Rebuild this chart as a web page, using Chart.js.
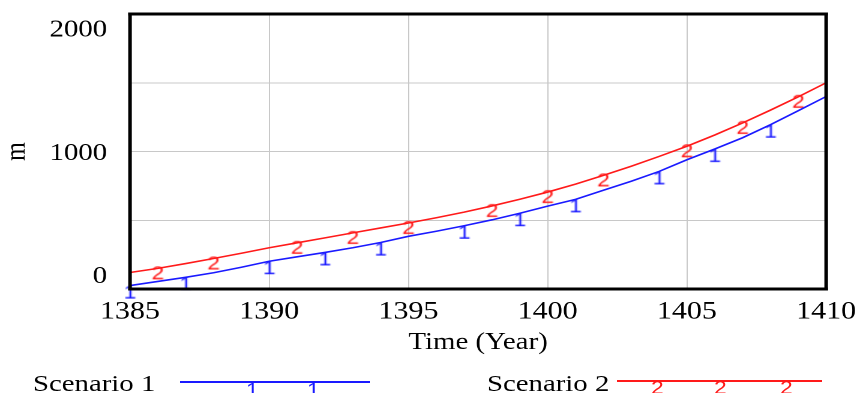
<!DOCTYPE html>
<html>
<head>
<meta charset="utf-8">
<script src="https://cdn.jsdelivr.net/npm/chart.js@4"></script>
<style>
  body { margin: 0; background: #fff; overflow: hidden; }
  #wrap { position: relative; width: 857px; height: 393px; }
  #chart { position: absolute; left: 0; top: 0; width: 857px; height: 393px; }
  .leg-text { position: absolute; font-family: "Liberation Serif", serif; font-size: 24px; line-height: 26px;
              color: #000; white-space: nowrap; transform: scaleX(1.2); transform-origin: left top; }
  .leg-line { position: absolute; height: 2px; }
  .leg-mark { position: absolute; font-family: "Liberation Sans", sans-serif; font-size: 19px; line-height: 19px;
              transform: scaleX(1.2); transform-origin: center top; }
</style>
</head>
<body>
<div id="wrap">
  <canvas id="chart" width="714" height="393" style="width:857px;height:393px"></canvas>
  <div class="leg-text" style="left:33px; top:370px;">Scenario 1</div>
  <div class="leg-line" style="left:180px; width:190px; top:381px; background:#1a1aff;"></div>
  <div class="leg-mark" style="left:247px; top:380px; color:#1a1aff;">1</div>
  <div class="leg-mark" style="left:308px; top:380px; color:#1a1aff;">1</div>
  <div class="leg-text" style="left:487px; top:370px;">Scenario 2</div>
  <div class="leg-line" style="left:617px; width:205px; top:380px; background:#ff1a1a;"></div>
  <div class="leg-mark" style="left:652px; top:378px; color:#ff1a1a;">2</div>
  <div class="leg-mark" style="left:715px; top:378px; color:#ff1a1a;">2</div>
  <div class="leg-mark" style="left:781px; top:378px; color:#ff1a1a;">2</div>
</div>
<script>
// ---------- Data ----------
const years = [1385, 1386, 1387, 1388, 1389, 1390, 1391, 1392, 1393, 1394, 1395, 1396, 1397,
               1398, 1399, 1400, 1401, 1402, 1403, 1404, 1405, 1406, 1407, 1408, 1409, 1410];
const scenario1 = [25, 55, 85, 118, 158, 202, 234, 266, 300, 338, 383, 420, 460,
                   503, 551, 603, 652, 718, 784, 855, 940, 1018, 1100, 1195, 1297, 1400];
const scenario2 = [120, 150, 185, 222, 260, 300, 336, 372, 408, 444, 480, 518, 559,
                   604, 653, 705, 763, 826, 893, 964, 1038, 1120, 1208, 1301, 1398, 1500];
// years where the "1" / "2" line markers sit
const markerYears1 = [1385, 1387, 1390, 1392, 1394, 1397, 1399, 1401, 1404, 1406, 1408];
const markerYears2 = [1386, 1388, 1391, 1393, 1395, 1398, 1400, 1402, 1405, 1407, 1409];
const yLabels = [0, 1000, 2000];

const BLUE = "#1a1aff";
const RED = "#ff1a1a";

// ---------- Marker glyphs (top of glyph sits on the line) ----------
function makeMarker(text, color, size, lift) {
  const c = document.createElement("canvas");
  c.width = 16;
  c.height = 40;
  const g = c.getContext("2d");
  g.fillStyle = color;
  g.font = size + 'px "Liberation Sans", sans-serif';
  g.textAlign = "center";
  g.textBaseline = "alphabetic";
  g.fillText(text, 8, 20 + size * 0.716 - lift);
  return c;
}
const mark1 = makeMarker("1", BLUE, 19, 1);
const mark2 = makeMarker("2", RED, 19, 2.5);

function series(label, values, color, marks, markImg) {
  return {
    label: label,
    data: years.map((y, i) => ({ x: y, y: values[i] })),
    borderColor: color,
    borderWidth: 1.6,
    tension: 0,
    fill: false,
    clip: false,
    pointStyle: markImg,
    pointRadius: (ctx) => (marks.includes(years[ctx.dataIndex]) ? 3 : 0),
    pointHoverRadius: 0,
  };
}

// ---------- Frame around plot ----------
const framePlugin = {
  id: "frame",
  afterDraw(chart) {
    const a = chart.chartArea;
    const c = chart.ctx;
    c.save();
    c.fillStyle = "#000";
    c.fillRect(a.left - 1.5, a.top - 1.5, a.right - a.left + 3, 3);
    c.fillRect(a.left - 1.5, a.bottom - 1.5, a.right - a.left + 3, 3);
    c.fillRect(a.left - 1.5, a.top - 1.5, 3, a.bottom - a.top + 3);
    c.fillRect(a.right - 1.5, a.top - 1.5, 3, a.bottom - a.top + 3);
    c.restore();
  },
};

// ---------- Chart ----------
const ctx = document.getElementById("chart").getContext("2d");
new Chart(ctx, {
  type: "line",
  data: {
    datasets: [
      series("Scenario 1", scenario1, BLUE, markerYears1, mark1),
      series("Scenario 2", scenario2, RED, markerYears2, mark2),
    ],
  },
  options: {
    responsive: false,
    devicePixelRatio: 2,
    animation: false,
    events: [],
    layout: { padding: { left: 0, right: 25.7, top: 14, bottom: 36 } },
    plugins: { legend: { display: false }, tooltip: { enabled: false } },
    scales: {
      x: {
        type: "linear",
        min: 1385,
        max: 1410,
        border: { display: false },
        grid: { color: "#c8c8c8", lineWidth: 1, drawTicks: false },
        ticks: {
          stepSize: 5,
          padding: 8,
          color: "#000",
          font: { family: "Liberation Serif", size: 25 },
          maxRotation: 0,
          callback: (v) => String(v),
        },
        title: {
          display: true,
          text: "Time (Year)",
          color: "#000",
          font: { family: "Liberation Serif", size: 24 },
          padding: { top: 0, bottom: 0 },
        },
        afterFit(scale) {
          scale.height = 68;
          scale.paddingLeft = 0;
          scale.paddingRight = 0;
        },
      },
      y: {
        min: 0,
        max: 2000,
        border: { display: false },
        grid: { color: "#c8c8c8", lineWidth: 1, drawTicks: false },
        ticks: {
          stepSize: 500,
          padding: 19,
          labelOffset: 2,
          color: "#000",
          font: { family: "Liberation Serif", size: 24, lineHeight: 1.2 },
          callback: (v) => {
            if (!yLabels.includes(v)) return "";
            if (v === 2000) return ["", String(v)];
            if (v === 0) return [String(v), ""];
            return String(v);
          },
        },
        title: {
          display: true,
          text: "m",
          color: "#000",
          font: { family: "Liberation Serif", size: 24 },
          padding: { top: 0, bottom: 0 },
        },
        afterFit(scale) {
          scale.width = 108.3;
          scale.paddingTop = 0;
          scale.paddingBottom = 0;
        },
      },
    },
  },
  plugins: [framePlugin],
});
</script>
</body>
</html>
